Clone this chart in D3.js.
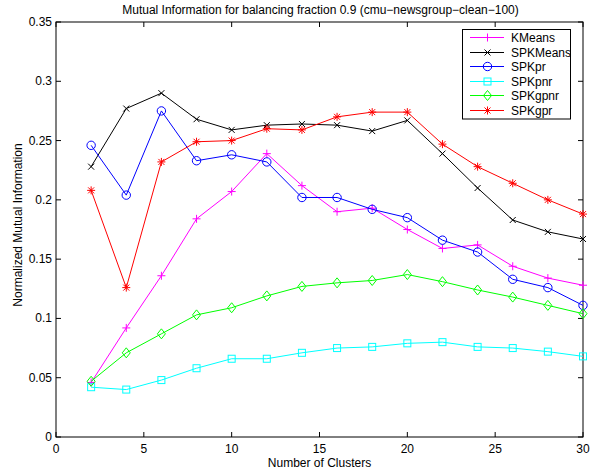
<!DOCTYPE html>
<html>
<head>
<meta charset="UTF-8">
<style>
  body { margin: 0; background: #fff; }
  svg { display: block; font-family: "Liberation Sans", Arial, sans-serif; }
</style>
</head>
<body>
<svg id="chart" width="596" height="476"></svg>
<script src="https://d3js.org/d3.v7.min.js"></script>
<script>
// cluster counts along x
const clusters = [2, 4, 6, 8, 10, 12, 14, 16, 18, 20, 22, 24, 26, 28, 30];

const kmeans    = [0.046, 0.092, 0.136, 0.184, 0.207, 0.239, 0.212, 0.190, 0.193, 0.175, 0.159, 0.162, 0.144, 0.134, 0.128];
const spkmeans  = [0.228, 0.277, 0.290, 0.268, 0.259, 0.263, 0.264, 0.263, 0.258, 0.267, 0.239, 0.210, 0.183, 0.173, 0.167];
const spkpr     = [0.246, 0.204, 0.275, 0.233, 0.238, 0.232, 0.202, 0.202, 0.192, 0.185, 0.166, 0.156, 0.133, 0.126, 0.111];
const spkpnr    = [0.042, 0.040, 0.048, 0.058, 0.066, 0.066, 0.071, 0.075, 0.076, 0.079, 0.080, 0.076, 0.075, 0.072, 0.068];
const spkgpnr   = [0.047, 0.071, 0.087, 0.103, 0.109, 0.119, 0.127, 0.130, 0.132, 0.137, 0.131, 0.124, 0.118, 0.111, 0.104];
const spkgpr    = [0.208, 0.126, 0.232, 0.249, 0.250, 0.260, 0.259, 0.270, 0.274, 0.274, 0.247, 0.228, 0.214, 0.200, 0.188];

const xTicks = [0, 5, 10, 15, 20, 25, 30];
const yTicks = [0, 0.05, 0.1, 0.15, 0.2, 0.25, 0.3, 0.35];

const series = [
  {name: "KMeans",   values: kmeans,   color: "#ff00ff", marker: "plus"},
  {name: "SPKMeans", values: spkmeans, color: "#000000", marker: "cross"},
  {name: "SPKpr",    values: spkpr,    color: "#0000ff", marker: "circle"},
  {name: "SPKpnr",   values: spkpnr,   color: "#00ffff", marker: "square"},
  {name: "SPKgpnr",  values: spkgpnr,  color: "#00ff00", marker: "diamond"},
  {name: "SPKgpr",   values: spkgpr,   color: "#ff0000", marker: "star"}
];

const svg = d3.select("#chart");
const L = 56, R = 583, T = 22, B = 437;

const x = d3.scaleLinear().domain([0, 30]).range([L, R]);
const y = d3.scaleLinear().domain([0, 0.35]).range([B, T]);

// marker drawing, centred on (0,0)
function drawMarker(g, type, color) {
  if (type === "plus") {
    g.append("path").attr("d", "M-4,0H4M0,-4V4").attr("stroke", color).attr("fill", "none");
  } else if (type === "cross") {
    g.append("path").attr("d", "M-3,-3L3,3M-3,3L3,-3").attr("stroke", color).attr("fill", "none");
  } else if (type === "circle") {
    g.append("circle").attr("r", 4.2).attr("stroke", color).attr("fill", "none");
  } else if (type === "square") {
    g.append("rect").attr("x", -3.5).attr("y", -3.5).attr("width", 7).attr("height", 7)
      .attr("stroke", color).attr("fill", "none");
  } else if (type === "diamond") {
    g.append("path").attr("d", "M0,-5L4,0L0,5L-4,0Z").attr("stroke", color).attr("fill", "none");
  } else if (type === "star") {
    g.append("path").attr("d", "M-4,0H4M0,-4V4M-3,-3L3,3M-3,3L3,-3").attr("stroke", color).attr("fill", "none");
  }
}

// axes box
svg.append("rect").attr("x", L).attr("y", T).attr("width", R - L).attr("height", B - T)
  .attr("fill", "none").attr("stroke", "#000").attr("stroke-width", 1);

// ticks inward on all four sides
const tk = 5;
xTicks.forEach(t => {
  svg.append("line").attr("x1", x(t)).attr("x2", x(t)).attr("y1", B).attr("y2", B - tk).attr("stroke", "#000");
  svg.append("line").attr("x1", x(t)).attr("x2", x(t)).attr("y1", T).attr("y2", T + tk).attr("stroke", "#000");
  svg.append("text").attr("x", x(t)).attr("y", B + 16).attr("text-anchor", "middle")
    .attr("font-size", 12).text(t);
});
yTicks.forEach(t => {
  svg.append("line").attr("x1", L).attr("x2", L + tk).attr("y1", y(t)).attr("y2", y(t)).attr("stroke", "#000");
  svg.append("line").attr("x1", R).attr("x2", R - tk).attr("y1", y(t)).attr("y2", y(t)).attr("stroke", "#000");
  svg.append("text").attr("x", L - 4).attr("y", y(t) + 4).attr("text-anchor", "end")
    .attr("font-size", 12).text(t === 0 ? "0" : d3.format("~g")(t));
});

// lines and markers
const line = d3.line().x((d, i) => x(clusters[i])).y(d => y(d));
series.forEach(s => {
  svg.append("path").datum(s.values).attr("d", line)
    .attr("fill", "none").attr("stroke", s.color).attr("stroke-width", 1);
  s.values.forEach((v, i) => {
    const g = svg.append("g").attr("transform", `translate(${x(clusters[i])},${y(v)})`);
    drawMarker(g, s.marker, s.color);
  });
});

// legend
const lg = svg.append("g");
lg.append("rect").attr("x", 462.5).attr("y", 29.5).attr("width", 108).attr("height", 89.5)
  .attr("fill", "#fff").attr("stroke", "#000");
series.forEach((s, i) => {
  const ly = Math.round(37 + i * 14.5) + 0.5;
  lg.append("line").attr("x1", 470).attr("x2", 504).attr("y1", ly).attr("y2", ly).attr("stroke", s.color);
  const g = lg.append("g").attr("transform", `translate(487.5,${ly})`);
  drawMarker(g, s.marker, s.color);
  lg.append("text").attr("x", 511).attr("y", ly + 4.5).attr("font-size", 12).text(s.name);
});

// title and labels
svg.append("text").attr("x", (L + R) / 2 + 1).attr("y", 14).attr("text-anchor", "middle")
  .attr("font-size", 12).text("Mutual Information for balancing fraction 0.9 (cmu\u2212newsgroup\u2212clean\u2212100)");
svg.append("text").attr("x", (L + R) / 2).attr("y", 467).attr("text-anchor", "middle")
  .attr("font-size", 12).text("Number of Clusters");
svg.append("text").attr("transform", "translate(22,225) rotate(-90)").attr("text-anchor", "middle")
  .attr("font-size", 12).text("Normalized Mutual Information");
</script>
</body>
</html>
